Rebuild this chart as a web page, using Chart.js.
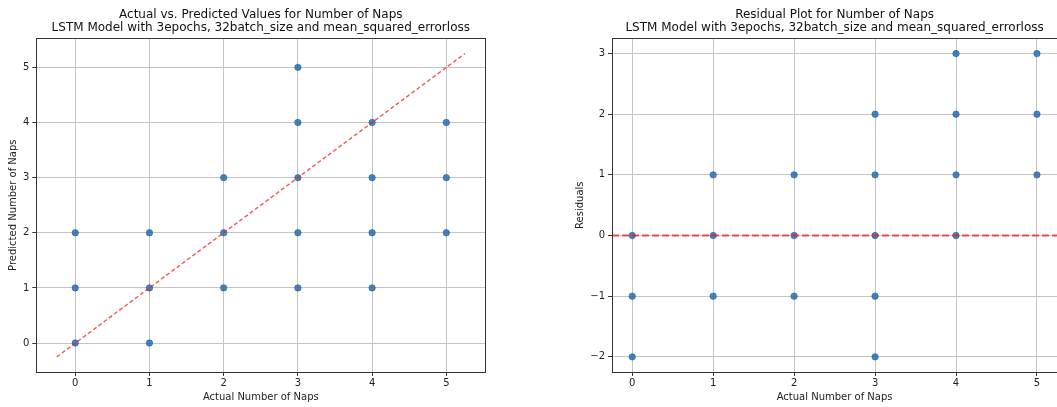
<!DOCTYPE html>
<html lang="en">
<head>
  <meta charset="UTF-8" />
  <title>LSTM Naps - Actual vs Predicted</title>
  <script src="https://cdn.jsdelivr.net/npm/chart.js"></script>
  <style>
    body {
        margin: 0;
        background: #fff;
        overflow: hidden;
        width: 1057px;
        height: 407px;
        position: relative;
    }
    .panel {
        position: absolute;
        top: 0;
    }
    #leftPanel { left: 0; }
    #rightPanel { left: 530px; }
  </style>
</head>
<body>
  <div class="panel" id="leftPanel"><canvas id="predChart" width="530" height="407"></canvas></div>
  <div class="panel" id="rightPanel"><canvas id="residChart" width="532" height="407"></canvas></div>

  <script>
    // values
    const actualNaps    = [0, 0, 0, 1, 1, 1, 2, 2, 2, 3, 3, 3, 3, 3, 4, 4, 4, 4, 5, 5, 5];
    const predictedNaps = [0, 1, 2, 0, 1, 2, 1, 2, 3, 1, 2, 3, 4, 5, 1, 2, 3, 4, 2, 3, 4];
    const residuals     = [0, -1, -2, 1, 0, -1, 1, 0, -1, 2, 1, 0, -1, -2, 3, 2, 1, 0, 3, 2, 1];

    const tickValues    = [0, 1, 2, 3, 4, 5];
    const residTicks    = [-2, -1, 0, 1, 2, 3];
    const diagLine      = [-0.25, 5.25];
    const zeroLineX     = [-0.25, 5.25];

    const subTitle = 'LSTM Model with 3epochs, 32batch_size and mean_squared_errorloss';

    const FONT = "'DejaVu Sans', sans-serif";
    const gridColor = '#c4c4c4';
    const inkColor = '#222';
    const dotColor = 'rgba(31, 100, 170, 0.8)';
    const redLine = 'rgba(240, 30, 25, 0.75)';

    // matplotlib style spines round the plot area
    const framePlugin = {
      id: 'frame',
      afterDraw(chart) {
        const a = chart.chartArea;
        const ctx = chart.ctx;
        ctx.save();
        ctx.strokeStyle = '#333';
        ctx.lineWidth = 1;
        ctx.strokeRect(Math.round(a.left) + 0.5, Math.round(a.top) + 0.5,
                       Math.round(a.right - a.left), Math.round(a.bottom - a.top));
        ctx.restore();
      }
    };

    function minusSign(v) {
      return String(v).replace('-', '\u2212');
    }

    function makeScale(opts) {
      return {
        type: 'linear',
        min: opts.min,
        max: opts.max,
        afterBuildTicks: (scale) => { scale.ticks = opts.ticks.map(v => ({ value: v })); },
        afterFit: (scale) => {
          if (opts.width) scale.width = opts.width;
          if (opts.height) scale.height = opts.height;
          // labels may hang over the plot edge, don't shrink the plot for them
          scale.paddingLeft = 0;
          scale.paddingRight = 0;
          scale.paddingTop = 0;
          scale.paddingBottom = 0;
        },
        border: { display: false },
        grid: {
          color: gridColor,
          lineWidth: 1,
          drawTicks: true,
          tickLength: 4,
          tickColor: '#333'
        },
        ticks: {
          color: inkColor,
          padding: opts.tickPad,
          font: { family: FONT, size: 10 },
          callback: (v) => minusSign(v)
        },
        title: {
          display: true,
          text: opts.title,
          color: inkColor,
          font: { family: FONT, size: 10 },
          padding: opts.titlePad
        }
      };
    }

    function titleBlock(first) {
      return {
        display: true,
        fullSize: false,
        text: [first, subTitle],
        color: '#111',
        font: { family: FONT, size: 12, weight: 'normal', lineHeight: 1.1 },
        padding: { top: 8, bottom: 4 }
      };
    }

    // left: actual vs predicted
    new Chart(document.getElementById('predChart').getContext('2d'), {
      type: 'scatter',
      data: {
        datasets: [
          {
            label: 'ideal',
            data: diagLine.map(v => ({ x: v, y: v })),
            showLine: true,
            borderColor: redLine,
            borderWidth: 1.4,
            borderDash: [4, 2.5],
            pointRadius: 0
          },
          {
            label: 'points',
            data: actualNaps.map((a, i) => ({ x: a, y: predictedNaps[i] })),
            backgroundColor: dotColor,
            borderColor: dotColor,
            borderWidth: 0.8,
            pointRadius: 3.2
          }
        ]
      },
      options: {
        responsive: false,
        animation: false,
        devicePixelRatio: 1,
        layout: { padding: { left: 0, right: 44.7, top: 0, bottom: 0 } },
        plugins: {
          legend: { display: false },
          tooltip: { enabled: false },
          title: titleBlock('Actual vs. Predicted Values for Number of Naps')
        },
        scales: {
          x: makeScale({ min: -0.525, max: 5.525, ticks: tickValues, height: 35,
                         tickPad: 1, title: 'Actual Number of Naps', titlePad: { top: 0, bottom: 4 } }),
          y: makeScale({ min: -0.525, max: 5.525, ticks: tickValues, width: 36.3,
                         tickPad: 3, title: 'Predicted Number of Naps', titlePad: { top: 7, bottom: 0 } })
        }
      },
      plugins: [framePlugin]
    });

    // right: residuals
    new Chart(document.getElementById('residChart').getContext('2d'), {
      type: 'scatter',
      data: {
        datasets: [
          {
            label: 'zero',
            data: zeroLineX.map(v => ({ x: v, y: 0 })),
            showLine: true,
            borderColor: redLine,
            borderWidth: 2,
            borderDash: [7, 3],
            pointRadius: 0
          },
          {
            label: 'residuals',
            data: actualNaps.map((a, i) => ({ x: a, y: residuals[i] })),
            backgroundColor: dotColor,
            borderColor: dotColor,
            borderWidth: 0.8,
            pointRadius: 3.2
          }
        ]
      },
      options: {
        responsive: false,
        animation: false,
        devicePixelRatio: 1,
        layout: { padding: { left: 38, right: 3.4, top: 0, bottom: 0 } },
        plugins: {
          legend: { display: false },
          tooltip: { enabled: false },
          title: titleBlock('Residual Plot for Number of Naps')
        },
        scales: {
          x: makeScale({ min: -0.25, max: 5.25, ticks: tickValues, height: 35,
                         tickPad: 1, title: 'Actual Number of Naps', titlePad: { top: 0, bottom: 4 } }),
          y: makeScale({ min: -2.25, max: 3.25, ticks: residTicks, width: 44,
                         tickPad: 3, title: 'Residuals', titlePad: { top: 6.6, bottom: 0 } })
        }
      },
      plugins: [framePlugin]
    });
  </script>
</body>
</html>
